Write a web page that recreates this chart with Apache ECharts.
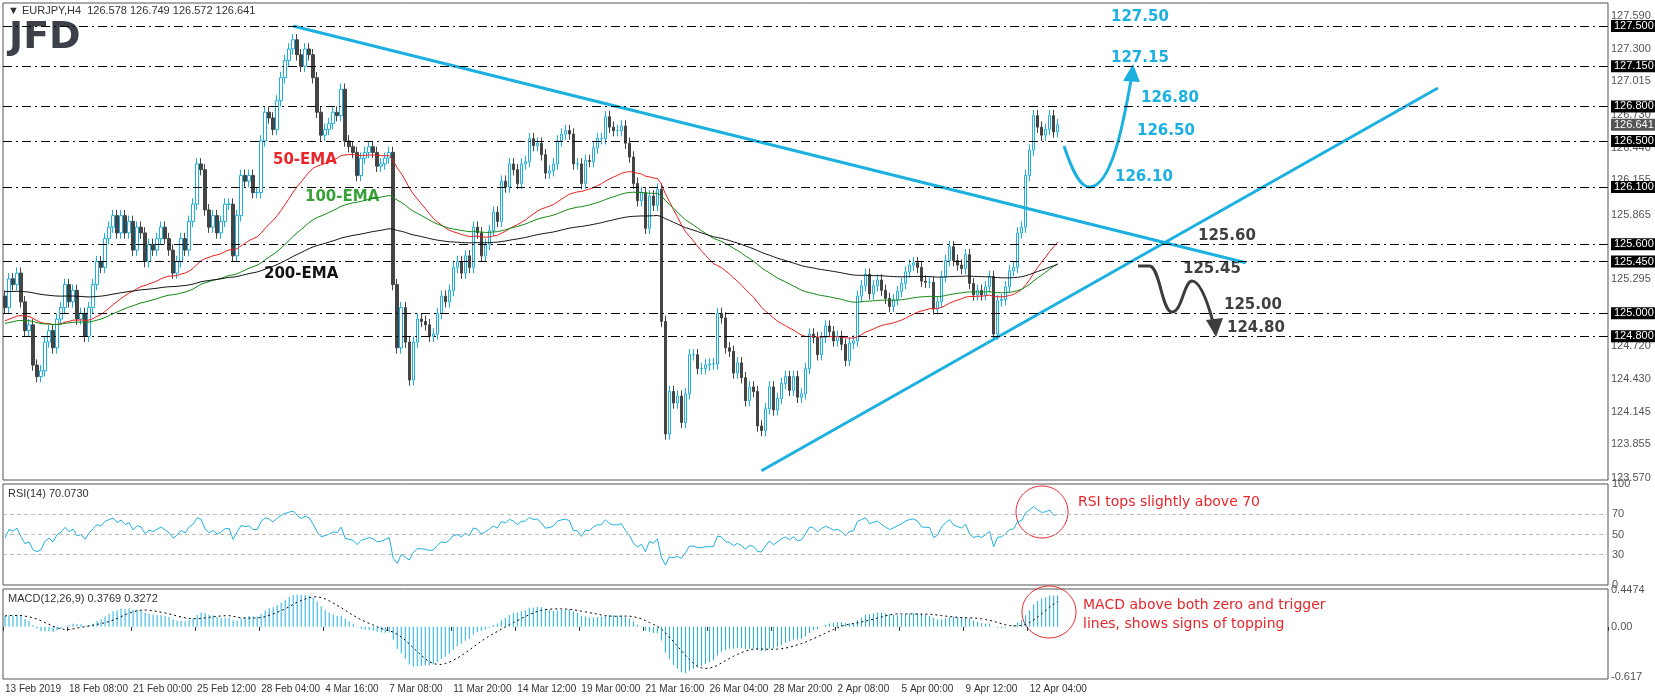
<!DOCTYPE html>
<html style="height: 100%">
<head>
    <meta charset="UTF-8">
    <title>EURJPY H4</title>
</head>
<body style="height: 100%; margin: 0; background: #fff">
    <div id="container" style="width: 1655px; height: 700px"></div>
    <script src="https://cdn.jsdelivr.net/npm/echarts@6/dist/echarts.min.js"></script>
    <script type="text/javascript">
        // closes of the H4 bars (open = previous close)
        var closes = [
            125.05, 125.30, 125.25, 125.35, 125.10, 124.85, 124.90, 124.55, 124.45, 124.50,
            124.75, 124.85, 124.70, 124.95, 125.05, 125.25, 125.10, 125.20, 124.95, 125.00,
            124.80, 125.05, 125.25, 125.45, 125.40, 125.65, 125.75, 125.85, 125.70, 125.85,
            125.70, 125.80, 125.55, 125.75, 125.70, 125.45, 125.60, 125.55, 125.65, 125.75,
            125.65, 125.55, 125.35, 125.45, 125.65, 125.55, 125.80, 125.95, 126.30, 126.25,
            125.90, 125.75, 125.85, 125.70, 125.80, 125.95, 125.95, 125.50, 125.85, 126.20,
            126.15, 126.20, 126.05, 126.05, 126.50, 126.75, 126.70, 126.60, 126.85, 127.05,
            127.20, 127.30, 127.38, 127.25, 127.15, 127.30, 127.25, 127.05, 126.75, 126.55,
            126.60, 126.65, 126.75, 126.72, 126.95, 126.50, 126.45, 126.40, 126.20, 126.35,
            126.40, 126.45, 126.40, 126.28, 126.30, 126.35, 126.40, 125.25, 124.70, 125.05,
            124.75, 124.42, 124.75, 124.95, 124.93, 124.90, 124.80, 124.82, 125.00, 125.15,
            125.10, 125.20, 125.40, 125.45, 125.35, 125.50, 125.40, 125.75, 125.70, 125.50,
            125.60, 125.72, 125.88, 125.80, 126.15, 126.10, 126.30, 126.25, 126.13, 126.30,
            126.32, 126.52, 126.46, 126.48, 126.38, 126.22, 126.24, 126.30, 126.50, 126.56,
            126.59, 126.56, 126.30, 126.30, 126.13, 126.33, 126.32, 126.44, 126.52, 126.52,
            126.71, 126.62, 126.59, 126.59, 126.63, 126.48, 126.36, 126.13, 125.98, 126.05,
            125.74, 126.02, 125.94, 126.08, 124.93, 123.95, 124.32, 124.22, 124.28, 124.05,
            124.30, 124.64, 124.64, 124.52, 124.52, 124.55, 124.56, 124.56, 125.00, 124.96,
            124.70, 124.67, 124.48, 124.57, 124.44, 124.24, 124.36, 124.32, 124.02, 123.98,
            124.17, 124.36, 124.16, 124.26, 124.39, 124.45, 124.33, 124.45, 124.27, 124.30,
            124.52, 124.82, 124.79, 124.64, 124.79, 124.89, 124.84, 124.76, 124.80, 124.73,
            124.59, 124.74, 124.76, 125.15, 125.24, 125.34, 125.17, 125.24, 125.29, 125.20,
            125.13, 125.06, 125.12, 125.19, 125.26, 125.36, 125.42, 125.44, 125.40, 125.28,
            125.27, 125.27, 125.04, 125.10, 125.32, 125.46, 125.58, 125.46, 125.42, 125.39,
            125.51, 125.26, 125.16, 125.20, 125.16, 125.23, 125.32, 124.82, 125.11, 125.12,
            125.23, 125.37, 125.40, 125.70, 125.75, 126.20, 126.42, 126.72, 126.62, 126.55,
            126.60, 126.72, 126.578, 126.641
        ];
        var firstOpen = 125.15;
        var wick = 0.05;

        var timeLabels = ['13 Feb 2019', '18 Feb 08:00', '21 Feb 00:00', '25 Feb 12:00', '28 Feb 04:00',
            '4 Mar 16:00', '7 Mar 08:00', '11 Mar 20:00', '14 Mar 12:00', '19 Mar 00:00', '21 Mar 16:00',
            '26 Mar 04:00', '28 Mar 20:00', '2 Apr 08:00', '5 Apr 00:00', '9 Apr 12:00', '12 Apr 04:00'];

        var levels = [127.50, 127.15, 126.80, 126.50, 126.10, 125.60, 125.45, 125.00, 124.80];
        var priceTicks = [127.590, 127.300, 127.015, 126.730, 126.440, 126.155, 125.865, 125.295,
            124.720, 124.430, 124.145, 123.855, 123.570];
        var lastPrice = 126.641;
        var macdTicks = [0.4474, 0, -0.617];
        var macdTickText = ['0.4474', '0.00', '-0.617'];

        // trend lines: [bar, price]
        var downTrend = [[72, 127.50], [310, 125.44]];
        var upTrend = [[189, 123.63], [358, 126.96]];

        // EMA starting values read at the left edge
        var emaSeeds = {50: 124.93, 100: 124.91, 200: 125.19};

        var totalBars = 401;

        var dom = document.getElementById('container');
        var myChart = echarts.init(dom);
        var font = 'Liberation Sans';
        var clear = 'rgba(0,0,0,0)';

        var cats = [];
        for (var i = 0; i < totalBars; i++) cats.push(i);

        var candles = [];
        for (var i = 0; i < closes.length; i++) {
            var o = i === 0 ? firstOpen : closes[i - 1];
            var c = closes[i];
            candles.push([o, c, Math.min(o, c) - wick, Math.max(o, c) + wick]);
        }

        function ema(n, seed) {
            var k = 2 / (n + 1), v = seed, out = [];
            for (var i = 0; i < closes.length; i++) {
                v = closes[i] * k + v * (1 - k);
                out.push(+v.toFixed(4));
            }
            return out;
        }

        function rsi(n) {
            var ag = 0.05, al = 0.05, out = [];
            for (var i = 0; i < closes.length; i++) {
                var d = i === 0 ? closes[0] - firstOpen : closes[i] - closes[i - 1];
                ag = (ag * (n - 1) + Math.max(d, 0)) / n;
                al = (al * (n - 1) + Math.max(-d, 0)) / n;
                out.push(+(100 - 100 / (1 + ag / al)).toFixed(2));
            }
            return out;
        }

        var e12 = 125.10, e26 = 124.95, macd = [], signal = [];
        for (var i = 0; i < closes.length; i++) {
            e12 = closes[i] * 2 / 13 + e12 * 11 / 13;
            e26 = closes[i] * 2 / 27 + e26 * 25 / 27;
            macd.push(+(e12 - e26).toFixed(4));
            var s = 0, m = 0;
            for (var j = Math.max(0, i - 8); j <= i; j++) { s += macd[j]; m++; }
            signal.push(+(s / m).toFixed(4));
        }

        var markData = [];
        priceTicks.forEach(function (v) {
            markData.push({yAxis: v, lineStyle: {color: clear},
                label: {formatter: v.toFixed(3), color: '#555'}});
        });
        levels.forEach(function (v) {
            markData.push({yAxis: v, lineStyle: {color: '#000', type: [9, 4, 2, 4], width: 1},
                label: {formatter: v.toFixed(3), color: '#fff', backgroundColor: '#000', padding: [1, 3, 0, 3]}});
        });
        markData.push({yAxis: lastPrice, lineStyle: {color: clear},
            label: {formatter: lastPrice.toFixed(3), color: '#fff', backgroundColor: '#555', padding: [1, 3, 0, 3]}});

        var macdMarks = macdTicks.map(function (v, k) {
            return {yAxis: v, label: {formatter: macdTickText[k]}};
        });

        var blue = '#1cb0e0';
        var grids = [
            {left: 3, right: 47, top: 3, height: 477},
            {left: 3, right: 47, top: 484, height: 101},
            {left: 3, right: 47, top: 589, height: 90}
        ];
        grids.forEach(function (g) { g.show = true; g.borderColor = '#555'; g.borderWidth = 1; });

        function tickShown(i) { return i % 16 === 0 && i / 16 < timeLabels.length; }

        function xAx(idx, labels) {
            return {
                type: 'category', gridIndex: idx, data: cats, boundaryGap: true,
                axisLine: {show: false}, splitLine: {show: false},
                axisTick: {show: labels, interval: tickShown, length: 4, lineStyle: {color: '#333'}},
                axisLabel: {show: labels, align: 'left', margin: 5, color: '#333', fontFamily: font, fontSize: 10,
                    interval: tickShown, hideOverlap: false,
                    formatter: function (v, i) { return timeLabels[i / 16] || ''; }}
            };
        }

        var option = {
            animation: false,
            textStyle: {fontFamily: font},
            grid: grids,
            xAxis: [xAx(0, false), xAx(1, false), xAx(2, true)],
            yAxis: [
                {gridIndex: 0, position: 'right', min: 123.55, max: 127.70, axisLabel: {show: false},
                    splitLine: {show: false}, axisLine: {show: false}, axisTick: {show: false}},
                {gridIndex: 1, position: 'right', min: 0, max: 100, interval: 10, splitLine: {show: false},
                    axisLine: {show: false}, axisTick: {show: false},
                    axisLabel: {color: '#555', fontSize: 11, fontFamily: font, margin: 4,
                        formatter: function (v) { return [0, 30, 50, 70, 100].indexOf(v) >= 0 ? v : ''; }}},
                {gridIndex: 2, position: 'right', min: -0.64, max: 0.465, splitLine: {show: false},
                    axisLine: {show: false}, axisTick: {show: false}, axisLabel: {show: false}}
            ],
            series: [
                {
                    type: 'candlestick', xAxisIndex: 0, yAxisIndex: 0, data: candles, barWidth: 3,
                    itemStyle: {color: '#fff', color0: '#444', borderColor: blue, borderColor0: '#444', borderWidth: 1},
                    markLine: {silent: true, symbol: 'none', data: markData,
                        label: {position: 'end', distance: 3, fontSize: 11, fontFamily: font}}
                },
                {type: 'line', data: ema(50, emaSeeds[50]), showSymbol: false, lineStyle: {color: '#ee1c1c', width: 1}},
                {type: 'line', data: ema(100, emaSeeds[100]), showSymbol: false, lineStyle: {color: '#118811', width: 1}},
                {type: 'line', data: ema(200, emaSeeds[200]), showSymbol: false, lineStyle: {color: '#111', width: 1}},
                {type: 'line', data: downTrend, showSymbol: false, lineStyle: {color: blue, width: 3}},
                {type: 'line', data: upTrend, showSymbol: false, lineStyle: {color: blue, width: 3}},
                {
                    type: 'line', xAxisIndex: 1, yAxisIndex: 1, data: rsi(14), showSymbol: false,
                    lineStyle: {color: blue, width: 1},
                    markLine: {silent: true, symbol: 'none', label: {show: false},
                        lineStyle: {color: '#bbb', type: [4, 3], width: 1},
                        data: [{yAxis: 30}, {yAxis: 50}, {yAxis: 70}]}
                },
                {
                    type: 'bar', xAxisIndex: 2, yAxisIndex: 2, data: macd, barWidth: 1,
                    itemStyle: {color: blue},
                    markLine: {silent: true, symbol: 'none', lineStyle: {color: clear},
                        label: {position: 'end', distance: 3, color: '#555', fontSize: 11, fontFamily: font},
                        data: macdMarks}
                },
                {type: 'line', xAxisIndex: 2, yAxisIndex: 2, data: signal, showSymbol: false,
                    lineStyle: {color: '#000', width: 1, type: [2, 3]}}
            ],
            graphic: [
                {type: 'text', left: 8, top: 5, style: {text: '\u25BC EURJPY,H4  126.578 126.749 126.572 126.641', fill: '#333', font: '11px ' + font}},
                {type: 'text', left: 9, top: 19, style: {text: 'JFD', fill: '#3b4049', font: 'bold 38px "DejaVu Sans"'}},
                {type: 'text', left: 273, top: 153, style: {text: '50-EMA', fill: '#e8262b', font: 'bold 15px "DejaVu Sans"'}},
                {type: 'text', left: 305, top: 190, style: {text: '100-EMA', fill: '#3aa13a', font: 'bold 15px "DejaVu Sans"'}},
                {type: 'text', left: 264, top: 267, style: {text: '200-EMA', fill: '#111', font: 'bold 15px "DejaVu Sans"'}},
                {type: 'text', left: 1111, top: 10, style: {text: '127.50', fill: blue, font: 'bold 15px "DejaVu Sans"'}},
                {type: 'text', left: 1111, top: 51, style: {text: '127.15', fill: blue, font: 'bold 15px "DejaVu Sans"'}},
                {type: 'text', left: 1141, top: 91, style: {text: '126.80', fill: blue, font: 'bold 15px "DejaVu Sans"'}},
                {type: 'text', left: 1137, top: 124, style: {text: '126.50', fill: blue, font: 'bold 15px "DejaVu Sans"'}},
                {type: 'text', left: 1115, top: 170, style: {text: '126.10', fill: blue, font: 'bold 15px "DejaVu Sans"'}},
                {type: 'text', left: 1198, top: 229, style: {text: '125.60', fill: '#404040', font: 'bold 15px "DejaVu Sans"'}},
                {type: 'text', left: 1183, top: 262, style: {text: '125.45', fill: '#404040', font: 'bold 15px "DejaVu Sans"'}},
                {type: 'text', left: 1224, top: 298, style: {text: '125.00', fill: '#404040', font: 'bold 15px "DejaVu Sans"'}},
                {type: 'text', left: 1227, top: 321, style: {text: '124.80', fill: '#404040', font: 'bold 15px "DejaVu Sans"'}},
                {type: 'bezierCurve', shape: {x1: 1064, y1: 146, x2: 1090, y2: 187, cpx1: 1072, cpy1: 170, cpx2: 1080, cpy2: 188},
                    style: {stroke: blue, lineWidth: 3, fill: null}},
                {type: 'bezierCurve', shape: {x1: 1090, y1: 187, x2: 1131, y2: 80, cpx1: 1112, cpy1: 186, cpx2: 1124, cpy2: 120},
                    style: {stroke: blue, lineWidth: 3, fill: null}},
                {type: 'polygon', shape: {points: [[1133, 64], [1123, 81], [1140, 82]]}, style: {fill: blue}},
                {type: 'polyline', shape: {points: [[1138, 266], [1150, 266]]}, style: {stroke: '#3d3d3d', lineWidth: 3}},
                {type: 'bezierCurve', shape: {x1: 1150, y1: 266, x2: 1172, y2: 312, cpx1: 1160, cpy1: 268, cpx2: 1162, cpy2: 312},
                    style: {stroke: '#3d3d3d', lineWidth: 3, fill: null}},
                {type: 'bezierCurve', shape: {x1: 1172, y1: 312, x2: 1192, y2: 281, cpx1: 1182, cpy1: 312, cpx2: 1184, cpy2: 281},
                    style: {stroke: '#3d3d3d', lineWidth: 3, fill: null}},
                {type: 'bezierCurve', shape: {x1: 1192, y1: 281, x2: 1213, y2: 322, cpx1: 1200, cpy1: 281, cpx2: 1207, cpy2: 300},
                    style: {stroke: '#3d3d3d', lineWidth: 3, fill: null}},
                {type: 'polygon', shape: {points: [[1216, 337], [1206, 320], [1223, 318]]}, style: {fill: '#3d3d3d'}},
                {type: 'text', left: 8, top: 488, style: {text: 'RSI(14) 70.0730', fill: '#333', font: '11px ' + font}},
                {type: 'text', left: 8, top: 593, style: {text: 'MACD(12,26,9) 0.3769 0.3272', fill: '#333', font: '11px ' + font}},
                {type: 'ellipse', shape: {cx: 1042, cy: 512, rx: 26, ry: 26}, style: {stroke: '#e8262b', fill: null, lineWidth: 1}},
                {type: 'ellipse', shape: {cx: 1049, cy: 612, rx: 27, ry: 26}, style: {stroke: '#e8262b', fill: null, lineWidth: 1}},
                {type: 'text', left: 1078, top: 495, style: {text: 'RSI tops slightly above 70', fill: '#e8262b', font: '14px "DejaVu Sans"'}},
                {type: 'text', left: 1083, top: 596, style: {text: 'MACD above both zero and trigger\nlines, shows signs of topping', fill: '#e8262b', font: '14px "DejaVu Sans"', lineHeight: 19}}
            ]
        };
        myChart.setOption(option);
    </script>
</body>
</html>
